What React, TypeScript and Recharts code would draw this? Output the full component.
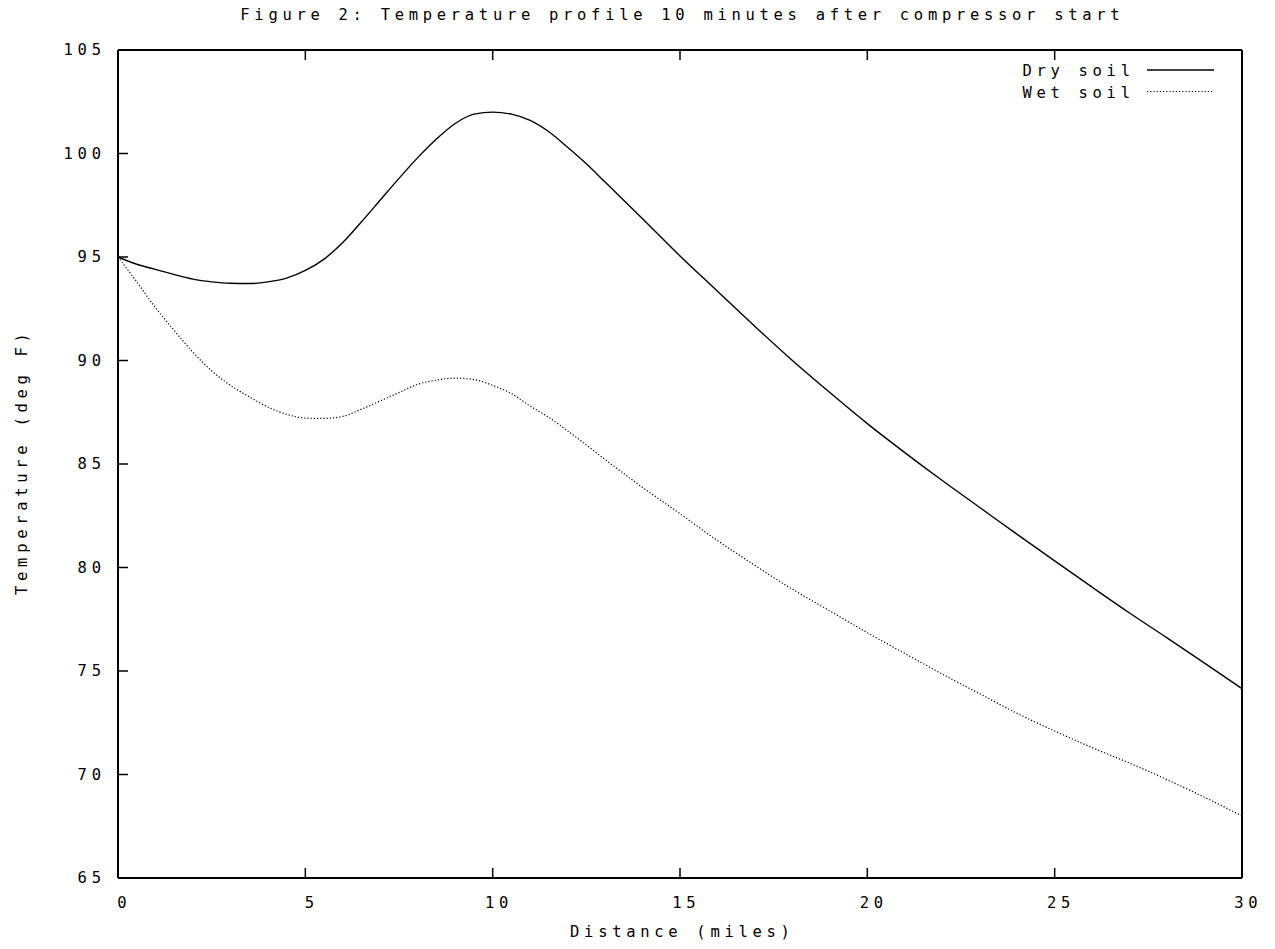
import React from 'react';
import { LineChart, Line, XAxis, YAxis, Legend } from 'recharts';

const distance = [0, 0.5, 1, 1.5, 2, 2.5, 3, 3.5, 4, 4.5, 5, 5.5, 6, 6.5, 7, 7.5, 8, 8.5, 9, 9.5, 10, 10.5, 11, 11.5, 12, 12.5, 13, 14, 15, 16, 17, 18, 19, 20, 21, 22, 23, 24, 25, 26, 27, 28, 29, 30];
const drySoil = [95.0, 94.65, 94.4, 94.15, 93.93, 93.8, 93.73, 93.72, 93.8, 93.98, 94.35, 94.9, 95.7, 96.7, 97.75, 98.8, 99.8, 100.7, 101.45, 101.9, 102.0, 101.9, 101.6, 101.05, 100.3, 99.5, 98.62, 96.85, 95.05, 93.35, 91.65, 90.0, 88.45, 86.95, 85.55, 84.2, 82.9, 81.6, 80.32, 79.05, 77.8, 76.6, 75.38, 74.15];
const wetSoil = [95.0, 93.8, 92.55, 91.45, 90.4, 89.5, 88.8, 88.25, 87.75, 87.4, 87.22, 87.2, 87.3, 87.65, 88.05, 88.45, 88.85, 89.05, 89.15, 89.08, 88.8, 88.4, 87.8, 87.25, 86.6, 85.92, 85.22, 83.87, 82.6, 81.3, 80.1, 78.95, 77.9, 76.85, 75.85, 74.85, 73.9, 72.95, 72.1, 71.3, 70.55, 69.75, 68.9, 68.0];
const xTicks = [0, 5, 10, 15, 20, 25, 30];
const yTicks = [65, 70, 75, 80, 85, 90, 95, 100, 105];
const seriesNames = ['Dry soil', 'Wet soil'];
const title = 'Figure 2: Temperature profile 10 minutes after compressor start';
const xLabel = 'Distance (miles)';
const yLabel = 'Temperature (deg F)';

const data = distance.map((d, i) => ({ x: d, dry: drySoil[i], wet: wetSoil[i] }));

const FONT = '"DejaVu Sans Mono", monospace';
const FS = 15.5;
const LS = 4.7;
const TICK = 10;
const INK = '#000';

const textStyle = { fontFamily: FONT, fontSize: FS, letterSpacing: LS, fill: INK } as any;

const BottomTick = (props: any) => {
  const { x, y, payload } = props;
  return (
    <g>
      <line x1={x} y1={y} x2={x} y2={y - TICK} stroke={INK} strokeWidth={1.5} />
      <text x={x + LS / 2 + 4} y={y + 30} textAnchor="middle" style={textStyle}>{payload.value}</text>
    </g>
  );
};

const LeftTick = (props: any) => {
  const { x, y, payload } = props;
  return (
    <g>
      <line x1={x} y1={y} x2={x + TICK} y2={y} stroke={INK} strokeWidth={1.5} />
      <text x={x - 17 + LS} y={y + 5} textAnchor="end" style={textStyle}>{payload.value}</text>
    </g>
  );
};

const TopTick = (props: any) => {
  const { x, y } = props;
  return <line x1={x} y1={y} x2={x} y2={y + TICK} stroke={INK} strokeWidth={1.5} />;
};

const RightTick = (props: any) => {
  const { x, y } = props;
  return <line x1={x} y1={y} x2={x - TICK} y2={y} stroke={INK} strokeWidth={1.5} />;
};

const TitleLabel = (props: any) => {
  const vb = props.viewBox || {};
  const cx = vb.x + vb.width / 2;
  return <text x={cx + LS / 2} y={20} textAnchor="middle" style={textStyle}>{title}</text>;
};

const XAxisLabel = (props: any) => {
  const vb = props.viewBox || {};
  const cx = vb.x + vb.width / 2;
  return <text x={cx + LS / 2} y={vb.y + 59} textAnchor="middle" style={textStyle}>{xLabel}</text>;
};

const YAxisLabel = (props: any) => {
  const vb = props.viewBox || {};
  const cy = vb.y + vb.height / 2;
  const x = 27;
  return (
    <text x={x} y={cy} dx={LS / 2} textAnchor="middle" transform={`rotate(-90, ${x}, ${cy})`} style={textStyle}>{yLabel}</text>
  );
};

const LegendContent = () => (
  <svg width={260} height={50} style={{ display: 'block', overflow: 'visible' }}>
    <text x={130 + LS} y={20.7} textAnchor="end" style={textStyle}>{seriesNames[0]}</text>
    <line x1={147} y1={15} x2={214} y2={15} stroke={INK} strokeWidth={1.4} />
    <text x={130 + LS} y={42.7} textAnchor="end" style={textStyle}>{seriesNames[1]}</text>
    <line x1={147} y1={36.5} x2={214} y2={36.5} stroke={INK} strokeWidth={1.2} strokeDasharray="1.2 2" />
  </svg>
);

export default function App() {
  return (
    <div style={{ position: 'absolute', left: 0, top: 0, width: 1275, height: 949, background: '#fff' }}>
      <LineChart width={1275} height={949} data={data} margin={{ top: 49, right: 32, left: 0, bottom: 0 }}>
        <XAxis
          xAxisId="bottom"
          dataKey="x"
          type="number"
          domain={[0, 30]}
          ticks={xTicks}
          height={71}
          tickSize={0}
          tickMargin={0}
          tickLine={false}
          tick={<BottomTick />}
          axisLine={{ stroke: INK, strokeWidth: 2 }}
          interval={0}
          label={<XAxisLabel />}
        />
        <XAxis
          xAxisId="top"
          orientation="top"
          dataKey="x"
          type="number"
          domain={[0, 30]}
          ticks={xTicks}
          height={1}
          tickSize={0}
          tickMargin={0}
          tickLine={false}
          tick={<TopTick />}
          axisLine={{ stroke: INK, strokeWidth: 2 }}
          interval={0}
          label={<TitleLabel />}
        />
        <YAxis
          yAxisId="left"
          type="number"
          domain={[65, 105]}
          ticks={yTicks}
          width={118}
          tickSize={0}
          tickMargin={0}
          tickLine={false}
          tick={<LeftTick />}
          axisLine={{ stroke: INK, strokeWidth: 2 }}
          interval={0}
          label={<YAxisLabel />}
        />
        <YAxis
          yAxisId="right"
          orientation="right"
          type="number"
          domain={[65, 105]}
          ticks={yTicks}
          width={1}
          tickSize={0}
          tickMargin={0}
          tickLine={false}
          tick={<RightTick />}
          axisLine={{ stroke: INK, strokeWidth: 2 }}
          interval={0}
        />
        <Legend
          layout="horizontal"
          verticalAlign="middle"
          align="center"
          content={<LegendContent />}
          wrapperStyle={{ position: 'absolute', left: 1000, top: 55, width: 260, height: 50 }}
        />
        <Line
          xAxisId="bottom"
          yAxisId="left"
          type="monotone"
          dataKey="dry"
          name={seriesNames[0]}
          stroke={INK}
          strokeWidth={1.4}
          dot={false}
          isAnimationActive={false}
        />
        <Line
          xAxisId="bottom"
          yAxisId="left"
          type="monotone"
          dataKey="wet"
          name={seriesNames[1]}
          stroke={INK}
          strokeWidth={1.2}
          strokeDasharray="1.2 2"
          dot={false}
          isAnimationActive={false}
        />
      </LineChart>
    </div>
  );
}
